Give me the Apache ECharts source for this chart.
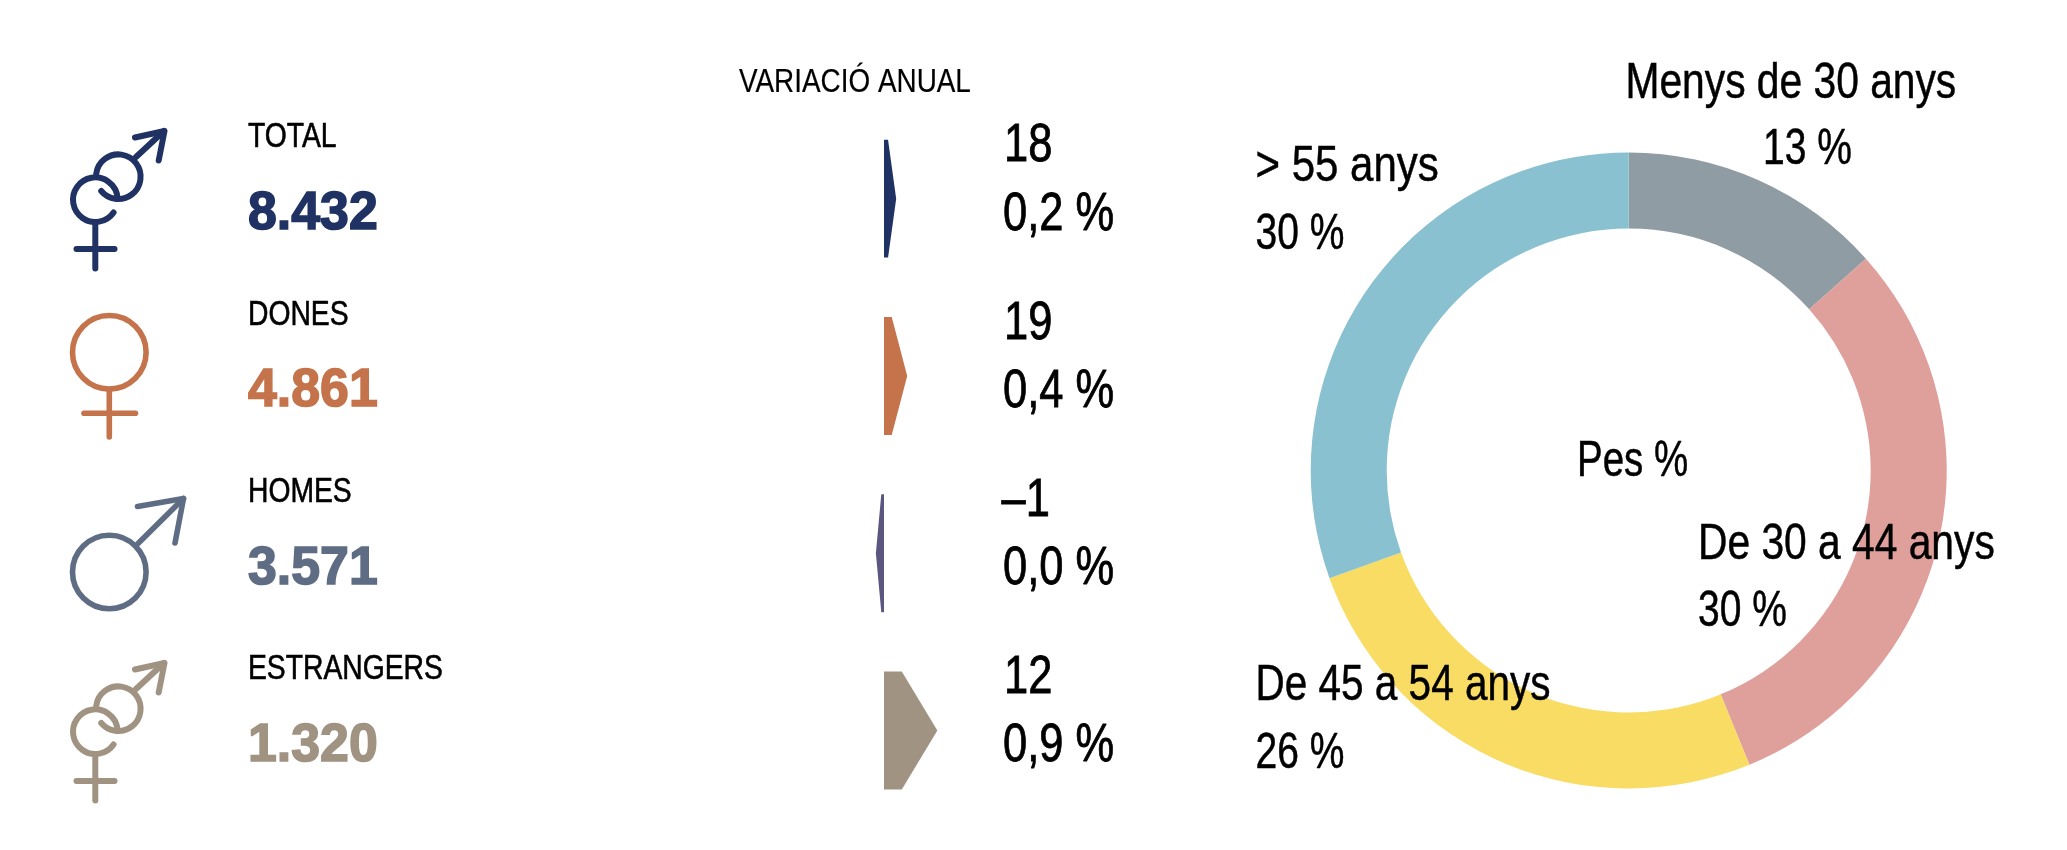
<!DOCTYPE html>
<html>
<head>
<meta charset="utf-8">
<style>html,body{margin:0;padding:0;background:#fff}#c{width:2067px;height:850px}</style>
<script src="https://cdn.jsdelivr.net/npm/echarts@6/dist/echarts.min.js"></script>
</head>
<body>
<div id="c"></div>
<script>
var groupNames = ['TOTAL', 'DONES', 'HOMES', 'ESTRANGERS'];
var groupTotals = ['8.432', '4.861', '3.571', '1.320'];
var changeAbs = ['18', '19', '–1', '12'];
var changePct = ['0,2 %', '0,4 %', '0,0 %', '0,9 %'];
var arrowValues = [0.21, 0.40, -0.14, 0.92];
var groupColors = ['#1f3263', '#c4734a', '#5f6d84', '#a09382'];
var arrowColors = ['#1f3263', '#c4734a', '#5a567f', '#a09382'];
var ageNames = ['Menys de 30 anys', 'De 30 a 44 anys', 'De 45 a 54 anys', '> 55 anys'];
var ageLabels = ['13 %', '30 %', '26 %', '30 %'];
var ageShares = [13.4, 30.4, 25.7, 30.5];
var ageColors = ['#909ca4', '#df9f9b', '#f8dc63', '#8ac1d1'];
var title = 'VARIACIÓ ANUAL';
var centerLabel = 'Pes %';

var SANS = '"Liberation Sans", Arial, sans-serif';
var ROW = 177.3;

function txt(s, x, base, size, opts) {
  opts = opts || {};
  var color = opts.color || '#000';
  return {
    type: 'text', z: 100, x: x, y: base - (opts.k || 0.285) * size, scaleX: opts.sx || 0.82, silent: true,
    style: { text: s, fontFamily: SANS, fontSize: size, fontWeight: opts.weight || 'normal',
             fill: color, stroke: color, lineWidth: opts.bold == null ? 0.5 : opts.bold, align: 'left', verticalAlign: 'middle' }
  };
}
function ln(pts, color, w) {
  return { type: 'polyline', shape: { points: pts }, style: { fill: 'none', stroke: color, lineWidth: w, lineCap: 'round', lineJoin: 'round' } };
}
function arc(cx, cy, r, a0, a1, color, w) {
  return { type: 'arc', shape: { cx: cx, cy: cy, r: r, startAngle: a0 * Math.PI / 180, endAngle: a1 * Math.PI / 180, clockwise: true },
           style: { fill: 'none', stroke: color, lineWidth: w, lineCap: 'round' } };
}
function bothIcon(dy, c) {
  var w = 6;
  return { type: 'group', x: 0, y: dy, z: 100, silent: true, children: [
    arc(95.3, 199.7, 22.3, 35, 358, c, w),
    arc(118.3, 176.7, 22.3, -172, 140, c, w),
    ln([[95.3, 224], [95.3, 268.5]], c, w),
    ln([[76.5, 249], [114.5, 249]], c, w),
    ln([[136, 157], [164, 131]], c, w),
    ln([[135, 137.5], [164.5, 131], [158.7, 160.5]], c, w)
  ] };
}
function femaleIcon(c) {
  var w = 5.6;
  return { type: 'group', z: 100, silent: true, children: [
    { type: 'circle', shape: { cx: 109.3, cy: 352.3, r: 36.8 }, style: { fill: 'none', stroke: c, lineWidth: w } },
    ln([[109.3, 390], [109.3, 437]], c, w),
    ln([[84, 413.3], [135.5, 413.3]], c, w)
  ] };
}
function maleIcon(c) {
  var w = 5.6;
  return { type: 'group', z: 100, silent: true, children: [
    { type: 'circle', shape: { cx: 109.3, cy: 572, r: 36.8 }, style: { fill: 'none', stroke: c, lineWidth: w } },
    ln([[138, 543.5], [183.5, 498.5]], c, w),
    ln([[137.5, 506.5], [183.5, 498.5], [175, 543]], c, w)
  ] };
}

var elements = [];
elements.push(txt(title, 739, 95, 34, { bold: 0.2, k: 0.37 }));
groupNames.forEach(function (n, i) {
  elements.push(txt(n, 248, 150 + ROW * i, 34.5, { bold: 0.6, k: 0.35 }));
  elements.push(txt(groupTotals[i], 248, 231 + ROW * i, 54, { color: groupColors[i], weight: 'bold', sx: 0.96, bold: 1.6, k: 0.31 }));
  elements.push(txt(changeAbs[i], i === 2 ? 1001.5 : 1004, 161.7 + ROW * i, 53, { bold: 0.8 }));
  elements.push(txt(changePct[i], 1003, 230 + ROW * i, 53, { bold: 0.8 }));
});
elements.push(bothIcon(0, groupColors[0]));
elements.push(femaleIcon(groupColors[1]));
elements.push(maleIcon(groupColors[2]));
elements.push(bothIcon(532, groupColors[3]));

var S = 50;
elements.push(txt(ageNames[0], 1625.5, 98.3, S, { sx: 0.815 }));
elements.push(txt(ageLabels[0], 1763, 164, S, { sx: 0.78 }));
elements.push(txt(ageNames[1], 1698, 559, S, { sx: 0.815 }));
elements.push(txt(ageLabels[1], 1698, 626, S, { sx: 0.78 }));
elements.push(txt(ageNames[2], 1255.5, 700.7, S, { sx: 0.81 }));
elements.push(txt(ageLabels[2], 1255.5, 768, S, { sx: 0.78 }));
elements.push(txt(ageNames[3], 1255.5, 181.7, S, { sx: 0.84 }));
elements.push(txt(ageLabels[3], 1255.5, 249, S, { sx: 0.78 }));
elements.push(txt(centerLabel, 1577, 476.7, S, { sx: 0.77 }));

var chart = echarts.init(document.getElementById('c'), null, { renderer: 'canvas', width: 2067, height: 850 });
chart.setOption({
  animation: false,
  backgroundColor: '#fff',
  tooltip: { show: false },
  grid: { left: 826, width: 116, top: 110, height: 709.2 },
  xAxis: { type: 'value', min: -1, max: 1, show: false },
  yAxis: { type: 'category', inverse: true, data: groupNames, show: false },
  graphic: { elements: elements },
  series: [
    {
      type: 'custom',
      coordinateSystem: 'cartesian2d',
      silent: true,
      data: arrowValues.map(function (v, i) { return [v, i]; }),
      encode: { x: 0, y: 1 },
      renderItem: function (params, api) {
        var v = api.value(0), i = api.value(1);
        var base = api.coord([0, i]);
        var tip = api.coord([v, i]);
        var body = api.coord([v / 3, i]);
        var h = api.size([0, 1])[1] * 0.665 / 2;
        return {
          type: 'polygon',
          shape: { points: [[base[0], base[1] - h], [body[0], base[1] - h], [tip[0], base[1]], [body[0], base[1] + h], [base[0], base[1] + h]] },
          style: { fill: arrowColors[i] }
        };
      }
    },
    {
      type: 'pie',
      silent: true,
      center: [1628.7, 470.5],
      radius: [242, 318],
      startAngle: 90,
      clockwise: true,
      label: { show: false },
      labelLine: { show: false },
      emphasis: { disabled: true },
      data: ageNames.map(function (n, i) {
        return { name: n, value: ageShares[i], itemStyle: { color: ageColors[i] } };
      })
    }
  ]
});
</script>
</body>
</html>
